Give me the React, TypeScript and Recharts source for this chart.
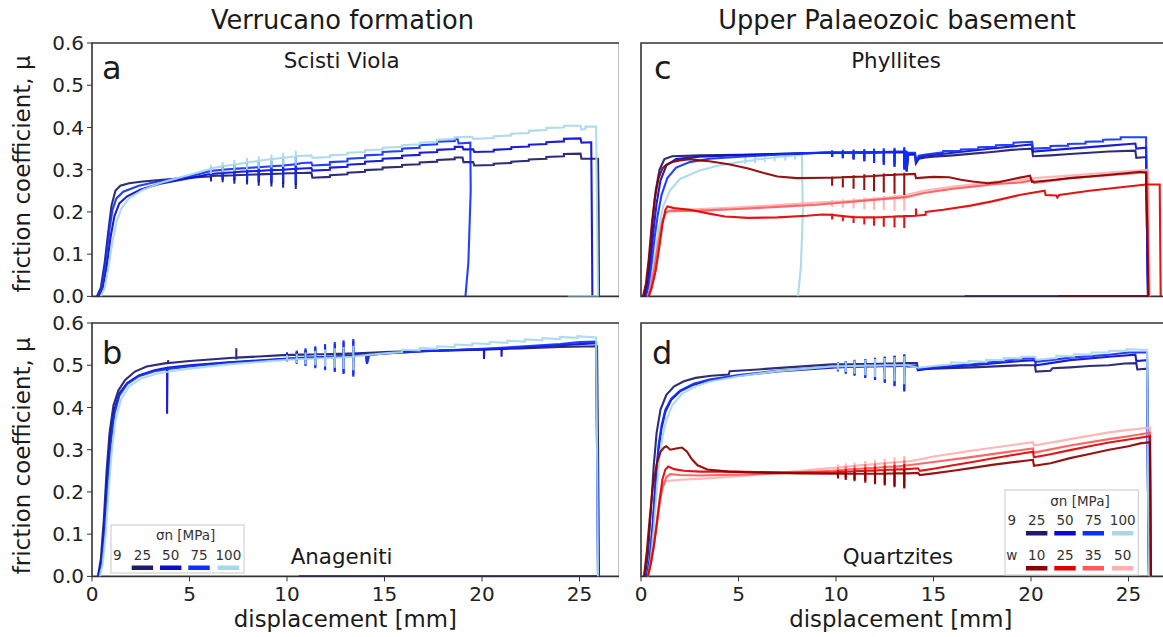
import { LineChart, Line, XAxis, YAxis, ReferenceArea } from 'recharts';

type P = [number, number];
type S = [number, number, number]; // [base, high, low] at a slide-hold-slide spike

const FONT = '"DejaVu Sans", Verdana, sans-serif';
const X_TICKS = [0, 5, 10, 15, 20, 25];
const Y_TICKS = [0, 0.1, 0.2, 0.3, 0.4, 0.5, 0.6];
const X_MAX = 27.05;
const PW = 527.5;
const PH = 253.4;

// normal stress colours
const G25 = '#1c1c6b';
const G50 = '#0a0ad0';
const G75 = '#1030ff';
const G100 = '#a8d8e8';
const W10 = '#8b0000';
const W25 = '#e00000';
const W35 = '#ff5a5a';
const W50 = '#ffb0b0';

// ---------- a: Scisti Viola ----------
const spkA = [6.1, 6.7, 7.3, 7.95, 8.55, 9.2, 9.8, 10.45];
const a25: P[] = [[0.25,0],[0.45,0.02],[0.65,0.08],[0.85,0.16],[1.0,0.215],[1.2,0.25],[1.45,0.262],[1.9,0.268],[2.6,0.272],[3.6,0.276],[5,0.281],[6,0.284],[10.8,0.292],[11.25,0.293],[11.3,0.281],[12.2,0.283],[12.2,0.287],[13.1,0.289],[13.1,0.293],[14,0.295],[14,0.299],[14.9,0.301],[14.9,0.305],[15.9,0.307],[15.9,0.311],[16.8,0.313],[16.8,0.317],[17.7,0.319],[17.7,0.323],[18.6,0.325],[18.6,0.329],[19.0,0.329],[19.05,0.318],[19.55,0.318],[19.6,0.31],[20.6,0.311],[20.6,0.314],[21.5,0.316],[21.5,0.319],[22.4,0.321],[22.4,0.324],[23.3,0.326],[23.3,0.33],[24.2,0.332],[24.2,0.337],[25.05,0.338],[25.1,0.326],[25.95,0.326],[25.98,0.2],[26.0,0]];
const a25S: S[] = [[0.285,0.29,0.272],[0.286,0.292,0.27],[0.287,0.294,0.267],[0.288,0.296,0.265],[0.289,0.298,0.262],[0.29,0.3,0.26],[0.291,0.302,0.257],[0.292,0.305,0.254]];
const a50: P[] = [[0.35,0],[0.55,0.02],[0.75,0.07],[0.95,0.14],[1.15,0.19],[1.4,0.22],[1.8,0.237],[2.5,0.253],[3.5,0.267],[5,0.28],[6,0.289],[10.8,0.303],[11.25,0.304],[11.3,0.298],[12.2,0.3],[12.2,0.305],[13.1,0.307],[13.1,0.312],[14,0.314],[14,0.319],[14.9,0.321],[14.9,0.326],[15.9,0.328],[15.9,0.333],[16.8,0.335],[16.8,0.34],[17.7,0.342],[17.7,0.347],[18.6,0.349],[18.6,0.354],[19.0,0.354],[19.05,0.348],[19.55,0.348],[19.6,0.342],[20.6,0.343],[20.6,0.347],[21.5,0.349],[21.5,0.353],[22.4,0.355],[22.4,0.359],[23.3,0.361],[23.3,0.365],[24.2,0.367],[24.2,0.373],[25.05,0.374],[25.1,0.364],[25.6,0.365],[25.63,0.2],[25.66,0]];
const a50S: S[] = [[0.29,0.297,0.278],[0.292,0.3,0.276],[0.294,0.303,0.274],[0.296,0.306,0.272],[0.297,0.308,0.27],[0.299,0.31,0.268],[0.3,0.313,0.266],[0.302,0.316,0.264]];
const a75: P[] = [[0.3,0],[0.5,0.02],[0.7,0.08],[0.9,0.16],[1.05,0.205],[1.25,0.232],[1.6,0.248],[2.4,0.262],[3.5,0.273],[5,0.284],[6,0.296],[10.8,0.316],[11.25,0.317],[11.3,0.31],[12.2,0.312],[12.2,0.318],[13.1,0.32],[13.1,0.326],[14,0.328],[14,0.334],[14.9,0.336],[14.9,0.342],[15.9,0.344],[15.9,0.35],[16.8,0.352],[16.8,0.358],[17.7,0.36],[17.7,0.366],[18.6,0.368],[18.6,0.372],[18.75,0.372],[18.8,0.362],[19.4,0.364],[19.42,0.25],[19.3,0.08],[19.15,0]];
const a75S: S[] = [[0.297,0.306,0.283],[0.3,0.31,0.28],[0.302,0.313,0.278],[0.304,0.316,0.276],[0.306,0.319,0.274],[0.308,0.322,0.272],[0.31,0.326,0.27],[0.313,0.33,0.268]];
const a100: P[] = [[0.45,0],[0.65,0.02],[0.85,0.07],[1.05,0.13],[1.25,0.175],[1.5,0.208],[1.9,0.232],[2.6,0.252],[3.6,0.27],[5,0.288],[6,0.301],[10.8,0.333],[11.25,0.334],[11.3,0.328],[12.2,0.33],[12.2,0.334],[13.1,0.336],[13.1,0.34],[14,0.342],[14,0.346],[14.9,0.348],[14.9,0.352],[15.9,0.354],[15.9,0.358],[16.8,0.36],[16.8,0.364],[17.7,0.366],[17.7,0.371],[18.6,0.373],[18.6,0.377],[19.5,0.378],[19.55,0.373],[20.6,0.375],[20.6,0.379],[21.5,0.381],[21.5,0.385],[22.4,0.387],[22.4,0.392],[23.3,0.394],[23.3,0.399],[24.2,0.4],[24.2,0.404],[25.05,0.404],[25.1,0.395],[25.3,0.396],[25.3,0.402],[25.85,0.402],[25.9,0.2],[25.95,0],[24.4,0]];
const a100S: S[] = [[0.303,0.312,0.29],[0.308,0.318,0.294],[0.312,0.323,0.297],[0.317,0.328,0.3],[0.321,0.332,0.302],[0.325,0.336,0.305],[0.328,0.34,0.307],[0.332,0.345,0.31]];

// ---------- b: Anageniti ----------
const spkB = [10.0, 10.5, 10.95, 11.45, 11.95, 12.45, 12.9, 13.4];
const b25: P[] = [[0.3,0],[0.45,0.04],[0.6,0.13],[0.75,0.25],[0.9,0.34],[1.1,0.405],[1.35,0.44],[1.7,0.465],[2.2,0.485],[2.8,0.497],[3.8,0.505],[3.9,0.505],[3.9,0.512],[3.92,0.505],[5,0.51],[7.4,0.518],[7.4,0.54],[7.4,0.514],[7.42,0.518],[9.8,0.524],[13.6,0.528],[14.5,0.53],[15,0.531],[17,0.534],[20,0.537],[22,0.54],[24,0.543],[25.9,0.545],[25.95,0.3],[26.0,0],[10.6,0]];
const b25S: S[] = [[0.524,0.53,0.518],[0.525,0.532,0.517],[0.525,0.534,0.515],[0.526,0.536,0.514],[0.526,0.537,0.512],[0.527,0.538,0.511],[0.527,0.539,0.51],[0.528,0.54,0.508]];
const b50: P[] = [[0.35,0],[0.5,0.04],[0.65,0.13],[0.8,0.24],[0.95,0.33],[1.15,0.395],[1.4,0.433],[1.8,0.458],[2.4,0.476],[3.2,0.488],[3.85,0.494],[3.85,0.385],[3.87,0.494],[5,0.5],[7,0.507],[9.8,0.515],[13.6,0.525],[14.05,0.526],[14.1,0.505],[14.2,0.525],[15,0.528],[17,0.533],[20.1,0.538],[20.1,0.515],[20.12,0.538],[21,0.54],[21,0.52],[21.02,0.54],[23,0.545],[25,0.55],[25.85,0.552],[25.9,0.3],[25.95,0]];
const b50S: S[] = [[0.516,0.528,0.51],[0.517,0.532,0.505],[0.518,0.537,0.5],[0.519,0.542,0.495],[0.52,0.547,0.49],[0.521,0.551,0.486],[0.522,0.555,0.481],[0.523,0.558,0.476]];
const b75: P[] = [[0.35,0],[0.5,0.03],[0.65,0.11],[0.8,0.22],[0.95,0.31],[1.15,0.385],[1.4,0.428],[1.8,0.455],[2.4,0.474],[3.2,0.486],[4,0.492],[5,0.497],[7,0.506],[9.8,0.514],[13.6,0.524],[14.05,0.525],[14.1,0.503],[14.2,0.524],[15,0.528],[17,0.533],[20,0.539],[22,0.544],[24,0.55],[25,0.555],[25.85,0.556],[25.9,0.3],[25.95,0]];
const b75S: S[] = [[0.515,0.53,0.508],[0.516,0.535,0.503],[0.517,0.54,0.498],[0.518,0.545,0.493],[0.519,0.55,0.488],[0.52,0.555,0.484],[0.521,0.559,0.479],[0.522,0.562,0.473]];
const b100: P[] = [[0.4,0],[0.55,0.03],[0.7,0.1],[0.85,0.2],[1.0,0.29],[1.2,0.37],[1.5,0.42],[1.9,0.45],[2.5,0.468],[3.3,0.48],[4.2,0.487],[5,0.492],[7,0.502],[9.8,0.512],[13.6,0.522],[15,0.528],[15.9,0.531],[15.9,0.537],[16.8,0.535],[16.8,0.541],[17.7,0.539],[17.7,0.545],[18.6,0.543],[18.6,0.549],[19.5,0.547],[19.5,0.552],[20.4,0.55],[20.4,0.555],[21.3,0.553],[21.3,0.558],[22.2,0.556],[22.2,0.561],[23.1,0.559],[23.1,0.564],[24,0.562],[24,0.567],[24.9,0.565],[24.9,0.569],[25.85,0.566],[25.9,0.3],[25.95,0]];
const b100S: S[] = [[0.513,0.524,0.508],[0.514,0.527,0.505],[0.515,0.53,0.502],[0.516,0.534,0.5],[0.517,0.537,0.497],[0.518,0.54,0.494],[0.519,0.543,0.491],[0.52,0.546,0.488]];

// ---------- c: Phyllites ----------
const spkC = [9.8, 10.35, 10.9, 11.45, 11.95, 12.45, 13.0, 13.5];
const spkC100 = [5.35, 5.85, 6.35, 6.85, 7.4, 7.9];
const c25: P[] = [[0.15,0],[0.3,0.03],[0.45,0.1],[0.6,0.18],[0.75,0.25],[0.95,0.3],[1.2,0.325],[1.6,0.332],[3,0.334],[6,0.336],[9.5,0.34],[13.6,0.341],[13.62,0.3],[13.7,0.335],[14.05,0.336],[14.1,0.315],[14.25,0.326],[14.6,0.329],[15,0.331],[16,0.334],[17,0.338],[18,0.342],[19,0.347],[20.05,0.35],[20.1,0.332],[21,0.334],[22,0.337],[23,0.34],[24,0.343],[25.35,0.345],[25.4,0.328],[25.9,0.33],[25.95,0.15],[26.0,0],[16.6,0]];
const c25S: S[] = [[0.34,0.342,0.332],[0.34,0.342,0.33],[0.34,0.343,0.327],[0.34,0.343,0.325],[0.34,0.344,0.322],[0.341,0.345,0.318],[0.341,0.346,0.314],[0.341,0.347,0.31]];
const c50: P[] = [[0.2,0],[0.35,0.03],[0.5,0.09],[0.65,0.16],[0.8,0.22],[1.0,0.275],[1.3,0.31],[1.8,0.325],[3,0.331],[6,0.336],[9.5,0.34],[13.6,0.342],[13.62,0.295],[13.7,0.338],[14.05,0.338],[14.1,0.318],[14.25,0.33],[14.6,0.333],[16,0.34],[18,0.35],[20.05,0.36],[20.1,0.343],[22,0.35],[24,0.357],[25.35,0.362],[25.4,0.35],[25.9,0.352],[25.95,0.15],[26.0,0]];
const c50S: S[] = [[0.34,0.344,0.33],[0.34,0.344,0.327],[0.341,0.345,0.324],[0.341,0.346,0.32],[0.341,0.347,0.316],[0.342,0.348,0.312],[0.342,0.349,0.307],[0.342,0.35,0.3]];
const c75: P[] = [[0.25,0],[0.4,0.03],[0.55,0.08],[0.7,0.14],[0.85,0.19],[1.05,0.24],[1.35,0.28],[1.8,0.305],[2.5,0.318],[3.5,0.326],[5.5,0.332],[8,0.338],[9.5,0.341],[13.6,0.343],[13.62,0.297],[13.7,0.34],[14.05,0.34],[14.1,0.32],[14.25,0.333],[14.6,0.336],[15.5,0.341],[15.5,0.344],[16.4,0.345],[16.4,0.348],[17.3,0.349],[17.3,0.353],[18.2,0.354],[18.2,0.358],[19.1,0.359],[19.1,0.364],[20.05,0.366],[20.1,0.35],[21,0.352],[21,0.356],[21.9,0.357],[21.9,0.361],[22.8,0.362],[22.8,0.366],[23.7,0.367],[23.7,0.371],[24.6,0.372],[24.6,0.377],[25.9,0.377],[25.95,0.15],[26.0,0]];
const c75S: S[] = [[0.341,0.346,0.33],[0.341,0.347,0.327],[0.341,0.348,0.324],[0.342,0.349,0.32],[0.342,0.35,0.316],[0.342,0.351,0.312],[0.343,0.352,0.307],[0.343,0.354,0.302]];
const c100: P[] = [[0.3,0],[0.5,0.03],[0.7,0.09],[0.9,0.16],[1.15,0.215],[1.5,0.252],[2,0.278],[3,0.298],[4,0.31],[5,0.318],[6,0.325],[7,0.33],[8.25,0.336],[8.3,0.2],[8.2,0.07],[8.05,0]];
const c100S: S[] = [[0.32,0.336,0.314],[0.323,0.337,0.316],[0.326,0.338,0.318],[0.329,0.339,0.32],[0.331,0.34,0.322],[0.334,0.341,0.324]];
const c10: P[] = [[0.1,0],[0.25,0.03],[0.4,0.09],[0.55,0.17],[0.7,0.23],[0.9,0.28],[1.1,0.303],[1.3,0.312],[1.6,0.318],[2.0,0.322],[2.5,0.325],[3.0,0.322],[3.5,0.32],[4.5,0.313],[5.5,0.303],[6.3,0.292],[7.0,0.284],[8,0.28],[9.5,0.281],[13.6,0.289],[14.05,0.29],[14.1,0.28],[15,0.283],[15.8,0.282],[16.4,0.276],[17,0.272],[17.8,0.268],[18.4,0.271],[19.2,0.279],[19.95,0.286],[20.05,0.271],[21,0.275],[22,0.28],[23,0.284],[24,0.288],[25,0.292],[25.6,0.295],[25.9,0.293],[25.97,0.15],[26.02,0],[21.4,0]];
const c10S: S[] = [[0.281,0.284,0.262],[0.282,0.285,0.258],[0.283,0.287,0.255],[0.284,0.289,0.252],[0.285,0.29,0.249],[0.287,0.291,0.246],[0.288,0.292,0.243],[0.289,0.293,0.24]];
const cw25: P[] = [[0.4,0],[0.55,0.02],[0.75,0.06],[0.95,0.12],[1.1,0.17],[1.25,0.205],[1.35,0.213],[1.7,0.209],[2.5,0.205],[3.5,0.196],[4.3,0.189],[5.5,0.186],[7,0.187],[8.5,0.191],[9.3,0.194],[13.6,0.19],[14.1,0.191],[14.1,0.208],[14.12,0.191],[14.6,0.193],[14.6,0.2],[15.5,0.205],[16.9,0.215],[18,0.225],[19.4,0.24],[20.7,0.25],[20.75,0.24],[21.3,0.239],[21.35,0.234],[21.45,0.24],[23,0.25],[24.5,0.258],[25.9,0.265],[26.6,0.265],[26.65,0]];
const cw25S: S[] = [[0.193,0.196,0.182],[0.19,0.193,0.178],[0.188,0.191,0.174],[0.187,0.19,0.17],[0.187,0.19,0.167],[0.188,0.19,0.165],[0.189,0.191,0.163],[0.19,0.193,0.162]];
const c35: P[] = [[0.35,0],[0.5,0.02],[0.7,0.07],[0.9,0.13],[1.1,0.18],[1.3,0.2],[1.6,0.202],[3,0.203],[5,0.207],[7,0.212],[9,0.217],[13.6,0.235],[14.5,0.245],[16,0.255],[17,0.26],[18.2,0.266],[19.5,0.27],[20.1,0.275],[20.15,0.268],[22,0.28],[24,0.287],[25.5,0.292],[25.95,0.294],[26.0,0.15],[26.05,0]];
const c50w: P[] = [[0.35,0],[0.5,0.02],[0.7,0.07],[0.9,0.13],[1.1,0.18],[1.3,0.203],[1.6,0.205],[3,0.207],[5,0.211],[7,0.216],[9,0.222],[13.6,0.24],[14.5,0.25],[16,0.26],[17,0.265],[18.2,0.272],[19.5,0.276],[20.1,0.28],[22,0.286],[24,0.293],[25.5,0.298],[26.0,0.3],[26.05,0.15],[26.1,0]];
const c50wS: S[] = [[0.224,0.228,0.212],[0.225,0.23,0.21],[0.227,0.232,0.208],[0.229,0.234,0.206],[0.231,0.236,0.205],[0.233,0.238,0.204],[0.236,0.24,0.203],[0.238,0.243,0.202]];

// ---------- d: Quartzites ----------
const spkD = [10.1, 10.5, 10.95, 11.5, 12.0, 12.5, 13.0, 13.5];
const d25: P[] = [[0.2,0],[0.35,0.05],[0.5,0.15],[0.65,0.26],[0.8,0.34],[1.0,0.395],[1.3,0.43],[1.7,0.45],[2.2,0.462],[2.8,0.47],[3.6,0.475],[4.5,0.478],[4.55,0.486],[6,0.49],[7.5,0.495],[9.8,0.502],[13.7,0.505],[14.15,0.505],[14.2,0.49],[15,0.492],[17,0.495],[19.5,0.5],[20.2,0.5],[20.25,0.485],[21,0.487],[21.1,0.493],[22,0.495],[23,0.498],[24,0.5],[24.8,0.504],[25.4,0.505],[25.45,0.49],[25.95,0.492],[26.0,0.2],[26.05,0]];
const d25S: S[] = [[0.502,0.506,0.494],[0.502,0.507,0.492],[0.503,0.508,0.49],[0.503,0.509,0.488],[0.503,0.51,0.486],[0.504,0.511,0.483],[0.504,0.512,0.48],[0.505,0.513,0.477]];
const d50: P[] = [[0.3,0],[0.45,0.04],[0.6,0.12],[0.75,0.22],[0.9,0.3],[1.05,0.35],[1.25,0.39],[1.55,0.418],[2,0.438],[2.7,0.454],[3.5,0.464],[5,0.475],[7,0.485],[9.8,0.494],[13.7,0.497],[14.15,0.497],[14.2,0.488],[15,0.494],[17,0.5],[19.5,0.51],[20.2,0.512],[20.25,0.5],[21,0.505],[22,0.512],[24,0.52],[25.35,0.525],[25.4,0.51],[25.95,0.512],[26.0,0.2],[26.05,0]];
const d50S: S[] = [[0.495,0.505,0.485],[0.496,0.508,0.48],[0.496,0.511,0.475],[0.497,0.514,0.47],[0.497,0.517,0.465],[0.498,0.52,0.458],[0.498,0.522,0.45],[0.499,0.525,0.438]];
const d75: P[] = [[0.3,0],[0.45,0.04],[0.6,0.12],[0.75,0.23],[0.9,0.31],[1.05,0.357],[1.25,0.395],[1.55,0.421],[2,0.44],[2.7,0.456],[3.5,0.466],[5,0.477],[7,0.487],[9.8,0.496],[13.7,0.499],[14.15,0.499],[14.2,0.49],[15,0.495],[17,0.502],[19.5,0.515],[20.2,0.517],[20.25,0.508],[21,0.512],[22,0.518],[24,0.525],[25,0.53],[25.95,0.53],[26.0,0.2],[26.05,0]];
const d75S: S[] = [[0.497,0.507,0.487],[0.497,0.51,0.482],[0.498,0.513,0.477],[0.498,0.515,0.472],[0.499,0.518,0.466],[0.499,0.52,0.46],[0.5,0.523,0.452],[0.5,0.526,0.44]];
const d100: P[] = [[0.35,0],[0.5,0.04],[0.65,0.11],[0.8,0.2],[0.95,0.28],[1.1,0.33],[1.3,0.37],[1.6,0.405],[2.1,0.432],[2.8,0.45],[3.5,0.461],[5,0.474],[7,0.486],[9.8,0.497],[13.7,0.5],[14.2,0.494],[15,0.498],[15.9,0.502],[15.9,0.507],[16.8,0.505],[16.8,0.51],[17.7,0.508],[17.7,0.513],[18.6,0.512],[18.6,0.517],[19.5,0.516],[19.5,0.52],[20.2,0.52],[20.25,0.513],[21.3,0.517],[21.3,0.522],[22.2,0.521],[22.2,0.526],[23.1,0.525],[23.1,0.53],[24,0.53],[24,0.534],[24.9,0.534],[24.9,0.538],[25.95,0.536],[26.0,0.2],[26.05,0]];
const d100S: S[] = [[0.497,0.506,0.488],[0.498,0.509,0.484],[0.498,0.511,0.48],[0.499,0.513,0.476],[0.499,0.515,0.472],[0.5,0.517,0.467],[0.5,0.519,0.462],[0.5,0.521,0.455]];
const d10: P[] = [[0.15,0],[0.3,0.06],[0.45,0.14],[0.6,0.21],[0.8,0.265],[1.0,0.295],[1.2,0.306],[1.3,0.308],[1.5,0.3],[1.8,0.303],[2.1,0.305],[2.35,0.296],[2.6,0.278],[2.9,0.263],[3.4,0.253],[4.5,0.248],[6,0.246],[8,0.244],[9.8,0.243],[13.7,0.244],[14.2,0.245],[14.3,0.24],[15,0.244],[16,0.25],[17,0.257],[18,0.264],[19,0.27],[20.1,0.276],[20.15,0.262],[21,0.268],[22,0.28],[23,0.29],[24,0.3],[25,0.308],[25.6,0.315],[26.1,0.318],[26.15,0]];
const d10S: S[] = [[0.243,0.246,0.232],[0.243,0.247,0.228],[0.243,0.248,0.225],[0.243,0.249,0.222],[0.243,0.25,0.218],[0.243,0.251,0.215],[0.244,0.252,0.211],[0.244,0.253,0.208]];
const dw25: P[] = [[0.35,0],[0.5,0.03],[0.65,0.07],[0.8,0.12],[0.95,0.18],[1.1,0.23],[1.25,0.253],[1.4,0.26],[1.7,0.254],[2.2,0.25],[3,0.248],[4.5,0.248],[6,0.247],[8,0.246],[9.8,0.246],[13.7,0.254],[14.2,0.256],[14.3,0.25],[15,0.255],[16,0.263],[17,0.271],[18,0.279],[19,0.287],[20.1,0.295],[20.15,0.282],[21,0.289],[22,0.299],[23,0.308],[24,0.317],[25,0.324],[26.1,0.332],[26.15,0]];
const dw25S: S[] = [[0.247,0.252,0.235],[0.248,0.254,0.232],[0.249,0.256,0.228],[0.25,0.258,0.225],[0.251,0.26,0.222],[0.252,0.262,0.218],[0.253,0.264,0.214],[0.254,0.266,0.21]];
const d35: P[] = [[0.35,0],[0.5,0.03],[0.65,0.07],[0.8,0.12],[0.95,0.17],[1.1,0.21],[1.3,0.235],[1.5,0.242],[2,0.24],[3,0.239],[5,0.241],[7,0.244],[9.8,0.25],[13.7,0.263],[14.2,0.266],[15,0.271],[17,0.283],[19,0.296],[20.1,0.303],[20.15,0.293],[22,0.31],[24,0.325],[25,0.332],[26.1,0.34],[26.15,0]];
const d35S: S[] = [[0.251,0.258,0.238],[0.253,0.261,0.235],[0.254,0.263,0.232],[0.256,0.266,0.228],[0.257,0.268,0.225],[0.259,0.27,0.222],[0.26,0.272,0.218],[0.262,0.275,0.214]];
const d50w: P[] = [[0.35,0],[0.5,0.03],[0.65,0.07],[0.8,0.13],[0.95,0.18],[1.1,0.212],[1.3,0.226],[2,0.229],[3,0.231],[5,0.237],[7,0.245],[9.8,0.257],[13.7,0.272],[14.2,0.276],[15,0.284],[17,0.298],[19.5,0.314],[20.1,0.318],[20.15,0.31],[22,0.325],[24,0.341],[25,0.347],[26.1,0.352],[26.15,0]];
const d50wS: S[] = [[0.258,0.265,0.245],[0.26,0.268,0.242],[0.262,0.27,0.238],[0.264,0.273,0.235],[0.266,0.276,0.232],[0.268,0.279,0.229],[0.27,0.282,0.226],[0.272,0.285,0.222]];

// merge base curve with the vertical spike strokes
function build(base: P[], spikeX: number[] = [], spikes: S[] = []) {
  const out: { x: number; y: number }[] = [];
  let k = 0;
  for (const [x, y] of base) {
    while (k < spikes.length && spikeX[k] < x) {
      const sx = spikeX[k];
      const [b, hi, lo] = spikes[k];
      out.push({ x: sx, y: b }, { x: sx, y: hi }, { x: sx, y: lo }, { x: sx, y: b });
      k++;
    }
    out.push({ x, y });
  }
  return out;
}

interface Series { id: string; color: string; data: { x: number; y: number }[] }

const panelA: Series[] = [
  { id: 'a25', color: G25, data: build(a25, spkA, a25S) },
  { id: 'a50', color: G50, data: build(a50, spkA, a50S) },
  { id: 'a75', color: G75, data: build(a75, spkA, a75S) },
  { id: 'a100', color: G100, data: build(a100, spkA, a100S) },
];
const panelB: Series[] = [
  { id: 'b25', color: G25, data: build(b25, spkB, b25S) },
  { id: 'b50', color: G50, data: build(b50, spkB, b50S) },
  { id: 'b75', color: G75, data: build(b75, spkB, b75S) },
  { id: 'b100', color: G100, data: build(b100, spkB, b100S) },
];
const panelC: Series[] = [
  { id: 'c100', color: G100, data: build(c100, spkC100, c100S) },
  { id: 'c25', color: G25, data: build(c25, spkC, c25S) },
  { id: 'c50', color: G50, data: build(c50, spkC, c50S) },
  { id: 'c75', color: G75, data: build(c75, spkC, c75S) },
  { id: 'c50w', color: W50, data: build(c50w, spkC, c50wS) },
  { id: 'c35', color: W35, data: build(c35) },
  { id: 'cw25', color: W25, data: build(cw25, spkC, cw25S) },
  { id: 'c10', color: W10, data: build(c10, spkC, c10S) },
];
const panelD: Series[] = [
  { id: 'd25', color: G25, data: build(d25, spkD, d25S) },
  { id: 'd50', color: G50, data: build(d50, spkD, d50S) },
  { id: 'd75', color: G75, data: build(d75, spkD, d75S) },
  { id: 'd100', color: G100, data: build(d100, spkD, d100S) },
  { id: 'd50w', color: W50, data: build(d50w, spkD, d50wS) },
  { id: 'd35', color: W35, data: build(d35, spkD, d35S) },
  { id: 'dw25', color: W25, data: build(dw25, spkD, dw25S) },
  { id: 'd10', color: W10, data: build(d10, spkD, d10S) },
];

function Panel({ left, top, showX, showY, series }: { left: number; top: number; showX: boolean; showY: boolean; series: Series[] }) {
  const yW = showY ? 60 : 0;
  const xH = showX ? 34 : 0;
  const padL = 20;
  const padB = 14;
  const padT = 14;
  return (
    <div style={{ position: 'absolute', left: left - yW - padL, top: top - padT }}>
      <LineChart width={PW + yW + padL} height={PH + xH + padB + padT} margin={{ top: padT, right: 0, bottom: padB, left: padL }}>
        <XAxis
          type="number"
          dataKey="x"
          domain={[0, X_MAX]}
          ticks={X_TICKS}
          interval={0}
          allowDataOverflow
          hide={!showX}
          height={xH}
          axisLine={false}
          tickLine={{ stroke: '#333' }}
          tickSize={5}
          tickMargin={5}
          tick={{ fontSize: 20, fill: '#222', fontFamily: FONT }}
        />
        <YAxis
          type="number"
          domain={[0, 0.6]}
          ticks={Y_TICKS}
          interval={0}
          allowDataOverflow
          hide={!showY}
          width={yW}
          axisLine={false}
          tickLine={{ stroke: '#333' }}
          tickSize={5}
          tickMargin={3}
          tickFormatter={(v: number) => v.toFixed(1)}
          tick={{ fontSize: 20, fill: '#222', fontFamily: FONT }}
        />
        {series.map((s) => (
          <Line
            key={s.id}
            data={s.data}
            dataKey="y"
            type="linear"
            stroke={s.color}
            strokeWidth={2.1}
            strokeOpacity={0.92}
            dot={false}
            activeDot={false}
            isAnimationActive={false}
          />
        ))}
        <ReferenceArea x1={0} x2={X_MAX} y1={0} y2={0.6} fill="none" stroke="#333" strokeWidth={1.6} ifOverflow="visible" />
      </LineChart>
    </div>
  );
}

const legendG = ['25', '50', '75', '100'];
const legendW = ['10', '25', '35', '50'];
const legendGColors = [G25, G50, G75, G100];
const legendWColors = [W10, W25, W35, W50];
const legendCols = [1036.7, 1065, 1093.3, 1122.7];

function LegendRow({ x0, labelY, barY, tag, labels, colors }: { x0: number; labelY: number; barY: number; tag: string; labels: string[]; colors: string[] }) {
  return (
    <g>
      <text x={x0 - 25} y={labelY} textAnchor="middle">{tag}</text>
      {labels.map((l, i) => (
        <g key={l + i}>
          <text x={x0 + legendCols[i] - legendCols[0]} y={labelY} textAnchor="middle">{l}</text>
          <rect x={x0 + legendCols[i] - legendCols[0] - 10.7} y={barY} width={21.4} height={4.5} fill={colors[i]} />
        </g>
      ))}
    </g>
  );
}

export default function App() {
  return (
    <div style={{ position: 'relative', width: 1163, height: 637, overflow: 'hidden', background: '#fff', fontFamily: FONT }}>
      <style>{'body{margin:0}'}</style>
      <Panel left={91.5} top={43.3} showX={false} showY series={panelA} />
      <Panel left={641} top={43.3} showX={false} showY={false} series={panelC} />
      <Panel left={91.5} top={323.3} showX showY series={panelB} />
      <Panel left={641} top={323.3} showX showY={false} series={panelD} />
      <svg width={1163} height={637} style={{ position: 'absolute', left: 0, top: 0, pointerEvents: 'none' }} fontFamily={FONT} fill="#1a1a1a">
        <text x={342.5} y={28.5} fontSize={25.7} textAnchor="middle">Verrucano formation</text>
        <text x={897} y={28.5} fontSize={25.7} textAnchor="middle">Upper Palaeozoic basement</text>

        <text x={341.6} y={68} fontSize={21.4} textAnchor="middle">Scisti Viola</text>
        <text x={896} y={67.5} fontSize={21.4} textAnchor="middle">Phyllites</text>
        <text x={341.6} y={563.5} fontSize={21.4} textAnchor="middle">Anageniti</text>
        <text x={898} y={563.5} fontSize={21.4} textAnchor="middle">Quartzites</text>

        <text x={102} y={78.5} fontSize={32}>a</text>
        <text x={102} y={363.5} fontSize={32}>b</text>
        <text x={654} y={78.5} fontSize={32}>c</text>
        <text x={652} y={363.5} fontSize={32}>d</text>

        <text transform="translate(29.5,174) rotate(-90)" fontSize={23} textAnchor="middle">friction coefficient, μ</text>
        <text transform="translate(29.5,455.8) rotate(-90)" fontSize={23} textAnchor="middle">friction coefficient, μ</text>

        <text x={345.4} y={627} fontSize={22.8} textAnchor="middle">displacement [mm]</text>
        <text x={900.8} y={627} fontSize={22.8} textAnchor="middle">displacement [mm]</text>

        {/* legend in b */}
        <g fontSize={13.5} fill="#333">
          <rect x={111} y={525} width={133} height={48} fill="#fff" fillOpacity={0.85} stroke="#c8c8c8" strokeWidth={1} />
          <text x={185.6} y={540} textAnchor="middle">σn [MPa]</text>
          <LegendRow x0={142.4} labelY={560} barY={565.5} tag="9" labels={legendG} colors={legendGColors} />
        </g>

        {/* legend in d */}
        <g fontSize={13.5} fill="#333">
          <rect x={1005} y={490} width={133.3} height={85} fill="#fff" fillOpacity={0.85} stroke="#c8c8c8" strokeWidth={1} />
          <text x={1080} y={506} textAnchor="middle">σn [MPa]</text>
          <LegendRow x0={1036.7} labelY={524.5} barY={531} tag="9" labels={legendG} colors={legendGColors} />
          <LegendRow x0={1036.7} labelY={560} barY={566} tag="w" labels={legendW} colors={legendWColors} />
        </g>
      </svg>
    </div>
  );
}
